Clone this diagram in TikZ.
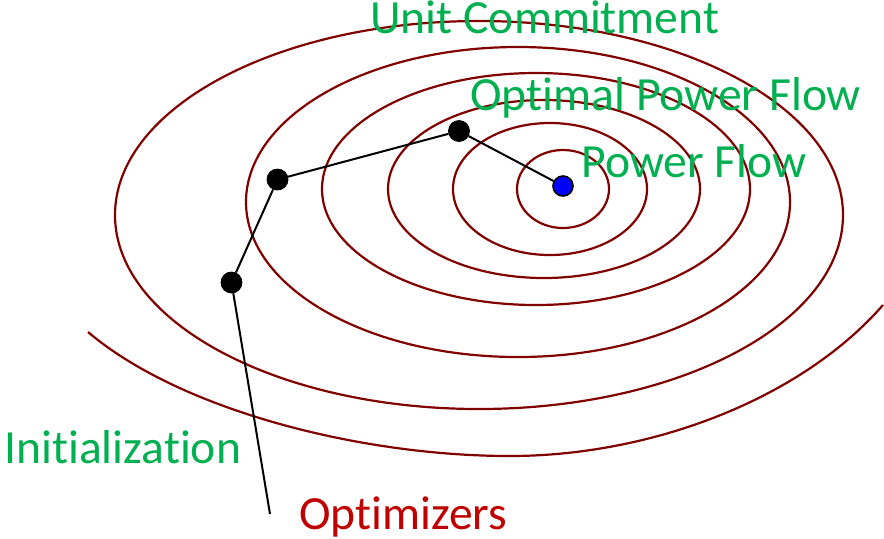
\documentclass[tikz,border=0pt]{standalone}
\usepackage{fontspec}
\setmainfont{Carlito}[Ligatures=NoCommon]
\usepackage{xcolor}
\usepackage{tikz}
\usetikzlibrary{positioning}
\definecolor{ringred}{HTML}{800000}
\definecolor{labelgreen}{HTML}{00B050}
\definecolor{optred}{HTML}{C00000}
\definecolor{bestblue}{HTML}{0000FF}
\tikzset{
  ring/.style    ={draw=ringred,line width=1.1pt},
  iterdot/.style ={circle,fill=black,draw=black,inner sep=0pt,minimum size=10.5pt},
  bestdot/.style ={circle,fill=bestblue,draw=black,line width=0.8pt,inner sep=0pt,minimum size=10pt},
  pathline/.style={draw=black,line width=1pt},
  lbl/.style     ={anchor=base west,inner sep=0pt,text=labelgreen,
                   font=\fontsize{23.8}{28}\selectfont},
  optlbl/.style  ={lbl,text=optred}
}
\begin{document}
\begin{tikzpicture}[x=0.5pt,y=-0.5pt]
  \useasboundingbox (0,0) rectangle (884,538);
  % level curves
  \foreach \cx/\cy/\rx/\ry in {563/189/46/39, 550/189/97/66, 544/189/156/89,
                               536/189/214/116, 518/202/272/155, 479/215/364/194}
    \draw[ring] (\cx,\cy) ellipse [x radius=\rx, y radius=\ry];
  \draw[ring] (88,332) .. controls (180,410) and (360,456) .. (510,456)
                       .. controls (650,456) and (800,400) .. (883,305);
  % optimizer path
  \coordinate (start) at (270,514);
  \node[iterdot] (p1) at (231.5,282.5) {};
  \node[iterdot] (p2) at (277.5,179.5) {};
  \node[iterdot] (p3) at (459,131) {};
  \node[bestdot] (opt) at (563,186) {};
  \draw[pathline] (start) -- (p1) -- (p2) -- (p3) -- (opt);
  % labels
  \node[lbl] (uc)   at (370,33)  {Unit Commitment};
  \node[lbl] (opf)  at (470,110) {Optimal Power Flow};
  \node[lbl] (pf)   at (581,177) {Power Flow};
  \node[lbl] (init) at (4,463)   {Initialization};
  \node[optlbl] (optim) at (299,529) {Optimizers};
\end{tikzpicture}
\end{document}
